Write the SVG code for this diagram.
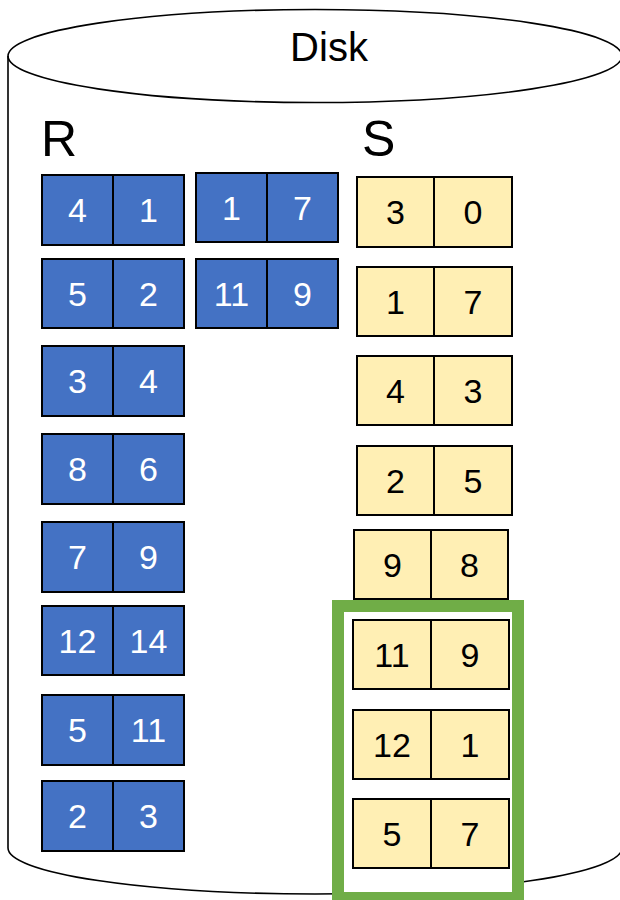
<svg xmlns="http://www.w3.org/2000/svg" width="620" height="900" viewBox="0 0 620 900">
<style>
text{font-family:"Liberation Sans",Arial,sans-serif;text-anchor:middle}
.cyl{fill:none;stroke:#000;stroke-width:1.6}
.b{fill:#4472C4;stroke:#000;stroke-width:2}
.y{fill:#FFEFB4;stroke:#000;stroke-width:2}
.bt{fill:#fff;font-size:34px}
.yt{fill:#000;font-size:34px}
.lbl{fill:#000;font-size:50px;text-anchor:start}
</style>
<rect width="620" height="900" fill="#fff"/>
<g id="disk">
<path class="cyl" d="M8 56 L8 848 A307 46 0 0 0 622 848 L622 56"/>
<ellipse class="cyl" cx="315" cy="56" rx="307" ry="46.5" fill="#fff"/>
<text x="329" y="61" font-size="40">Disk</text>
</g>
<g id="label-R"><text class="lbl" x="41" y="156">R</text></g>
<g id="label-S"><text class="lbl" x="362" y="156">S</text></g>
<g id="selection">
<rect x="338" y="606" width="180" height="292" fill="#fff" stroke="#70AD47" stroke-width="12"/>
</g>
<g id="r1"><rect class="b" x="42" y="175" width="71" height="70"/><rect class="b" x="113" y="175" width="71" height="70"/><text class="bt" x="77.5" y="222">4</text><text class="bt" x="148.5" y="222">1</text></g>
<g id="r2"><rect class="b" x="42" y="259" width="71" height="69"/><rect class="b" x="113" y="259" width="71" height="69"/><text class="bt" x="77.5" y="305.5">5</text><text class="bt" x="148.5" y="305.5">2</text></g>
<g id="r3"><rect class="b" x="42" y="346" width="71" height="70"/><rect class="b" x="113" y="346" width="71" height="70"/><text class="bt" x="77.5" y="393">3</text><text class="bt" x="148.5" y="393">4</text></g>
<g id="r4"><rect class="b" x="42" y="434" width="71" height="70"/><rect class="b" x="113" y="434" width="71" height="70"/><text class="bt" x="77.5" y="481">8</text><text class="bt" x="148.5" y="481">6</text></g>
<g id="r5"><rect class="b" x="42" y="522" width="71" height="70"/><rect class="b" x="113" y="522" width="71" height="70"/><text class="bt" x="77.5" y="569">7</text><text class="bt" x="148.5" y="569">9</text></g>
<g id="r6"><rect class="b" x="42" y="606" width="71" height="69"/><rect class="b" x="113" y="606" width="71" height="69"/><text class="bt" x="77.5" y="652.5">12</text><text class="bt" x="148.5" y="652.5">14</text></g>
<g id="r7"><rect class="b" x="42" y="695" width="71" height="70"/><rect class="b" x="113" y="695" width="71" height="70"/><text class="bt" x="77.5" y="742">5</text><text class="bt" x="148.5" y="742">11</text></g>
<g id="r8"><rect class="b" x="42" y="781" width="71" height="70"/><rect class="b" x="113" y="781" width="71" height="70"/><text class="bt" x="77.5" y="828">2</text><text class="bt" x="148.5" y="828">3</text></g>
<g id="r9"><rect class="b" x="196" y="173" width="71" height="69"/><rect class="b" x="267" y="173" width="71" height="69"/><text class="bt" x="231.5" y="219.5">1</text><text class="bt" x="302.5" y="219.5">7</text></g>
<g id="r10"><rect class="b" x="196" y="259" width="71" height="69"/><rect class="b" x="267" y="259" width="71" height="69"/><text class="bt" x="231.5" y="305.5">11</text><text class="bt" x="302.5" y="305.5">9</text></g>
<g id="s1"><rect class="y" x="357" y="177" width="77" height="70"/><rect class="y" x="434" y="177" width="78" height="70"/><text class="yt" x="395.5" y="224">3</text><text class="yt" x="473" y="224">0</text></g>
<g id="s2"><rect class="y" x="357" y="267" width="77" height="69"/><rect class="y" x="434" y="267" width="78" height="69"/><text class="yt" x="395.5" y="313.5">1</text><text class="yt" x="473" y="313.5">7</text></g>
<g id="s3"><rect class="y" x="357" y="356" width="77" height="69"/><rect class="y" x="434" y="356" width="78" height="69"/><text class="yt" x="395.5" y="402.5">4</text><text class="yt" x="473" y="402.5">3</text></g>
<g id="s4"><rect class="y" x="357" y="446" width="77" height="69"/><rect class="y" x="434" y="446" width="78" height="69"/><text class="yt" x="395.5" y="492.5">2</text><text class="yt" x="473" y="492.5">5</text></g>
<g id="s5"><rect class="y" x="354" y="530" width="77" height="69"/><rect class="y" x="431" y="530" width="77" height="69"/><text class="yt" x="392.5" y="576.5">9</text><text class="yt" x="469.5" y="576.5">8</text></g>
<g id="s6"><rect class="y" x="353" y="620" width="78" height="69"/><rect class="y" x="431" y="620" width="78" height="69"/><text class="yt" x="392" y="666.5">11</text><text class="yt" x="470" y="666.5">9</text></g>
<g id="s7"><rect class="y" x="353" y="710" width="78" height="69"/><rect class="y" x="431" y="710" width="78" height="69"/><text class="yt" x="392" y="756.5">12</text><text class="yt" x="470" y="756.5">1</text></g>
<g id="s8"><rect class="y" x="353" y="799" width="78" height="69"/><rect class="y" x="431" y="799" width="78" height="69"/><text class="yt" x="392" y="845.5">5</text><text class="yt" x="470" y="845.5">7</text></g>
<g id="connectors"></g>
</svg>
